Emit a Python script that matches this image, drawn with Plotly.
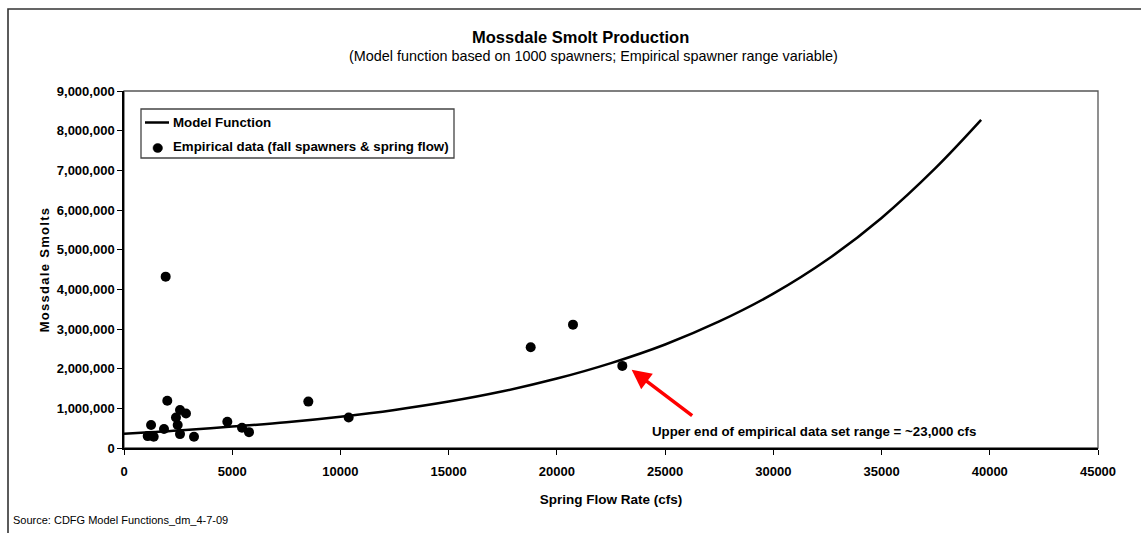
import plotly.graph_objects as go

# Empirical data (fall spawners & spring flow)
emp_flow = [1925, 2000, 1250, 1095, 1372, 1848, 2587, 2402, 2480, 2587, 2864, 3234,
            4774, 5452, 5775, 8516, 10380, 18790, 20744, 23022]
emp_smolts = [4320000, 1190000, 580000, 300000, 285000, 480000, 960000, 770000, 580000,
              350000, 870000, 285000, 660000, 510000, 400000, 1170000, 770000, 2540000,
              3110000, 2070000]

# Model function
model_flow = [0, 2500, 5000, 7500, 10000, 12500, 15000, 17500, 20000, 22500, 25000,
              27500, 30000, 32500, 35000, 37500, 39600]
model_smolts = [360000, 440000, 540000, 650000, 790000, 960000, 1170000, 1430000,
                1750000, 2140000, 2610000, 3190000, 3890000, 4750000, 5800000, 7060000,
                8270000]

x_ticks = [0, 5000, 10000, 15000, 20000, 25000, 30000, 35000, 40000, 45000]
y_ticks = [0, 1000000, 2000000, 3000000, 4000000, 5000000, 6000000, 7000000, 8000000, 9000000]

legend_labels = ["Model Function", "Empirical data (fall spawners & spring flow)"]

FONT = "Arial, Liberation Sans, sans-serif"
W, H = 1141, 533
L, R, T, B = 124, 1098, 91, 448

def px(xp):
    return (xp - L) / (R - L)

def py(yp):
    return (B - yp) / (B - T)

fig = go.Figure()
fig.add_trace(go.Scatter(x=model_flow, y=model_smolts, mode="lines", name=legend_labels[0],
                         line=dict(color="black", width=2.5, shape="spline")))
fig.add_trace(go.Scatter(x=emp_flow, y=emp_smolts, mode="markers", name=legend_labels[1],
                         marker=dict(color="black", size=10)))

axis_font = dict(family=FONT, size=13, color="black", weight="bold")
fig.update_xaxes(range=[0, 45000], tickvals=x_ticks, tickformat="d", ticks="outside", ticklen=5,
                 tickcolor="black", showline=True, linecolor="black", linewidth=1.5,
                 showgrid=False, zeroline=False, tickfont=axis_font, ticklabelstandoff=6,
                 title=dict(text="Spring Flow Rate (cfs)", standoff=16,
                            font=dict(family=FONT, size=13.5, color="black", weight="bold")))
fig.update_yaxes(range=[0, 9000000], tickvals=y_ticks, tickformat=",d", ticks="outside",
                 ticklen=5, tickcolor="black", showline=True, linecolor="black", linewidth=1.5,
                 showgrid=False, zeroline=False, tickfont=axis_font,
                 title=dict(text='<span style="letter-spacing:1.3px">Mossdale Smolts</span>',
                            standoff=4,
                            font=dict(family=FONT, size=13, color="black", weight="bold")))

legend_font = dict(family=FONT, size=13.3, color="black", weight="bold")

shapes = [
    # outer frame
    dict(type="rect", xref="paper", yref="paper", x0=px(8), x1=px(1150), y0=py(545), y1=py(9),
         line=dict(color="#333333", width=1.6), layer="below"),
    # plot area border
    dict(type="rect", xref="paper", yref="paper", x0=0, x1=1, y0=0, y1=1,
         line=dict(color="#555555", width=1.3), layer="below"),
    # legend box
    dict(type="rect", xref="paper", yref="paper", x0=px(141), x1=px(454), y0=py(158), y1=py(109),
         line=dict(color="#444444", width=1.3), fillcolor="white", layer="above"),
    # legend line sample
    dict(type="line", xref="paper", yref="paper", x0=px(145), x1=px(169), y0=py(122.5), y1=py(122.5),
         line=dict(color="black", width=2.5), layer="above"),
    # legend marker sample
    dict(type="circle", xref="paper", yref="paper", x0=px(153), x1=px(162.5), y0=py(152.5),
         y1=py(143.5), line=dict(color="black", width=0.5), fillcolor="black", layer="above"),
]

annotations = [
    dict(text="Mossdale Smolt Production", xref="paper", yref="paper", x=px(580), y=py(37),
         xanchor="center", yanchor="middle", showarrow=False,
         font=dict(family=FONT, size=16.5, color="black", weight="bold")),
    dict(text="(Model function based on 1000 spawners; Empirical spawner range variable)",
         xref="paper", yref="paper", x=px(593), y=py(56), xanchor="center", yanchor="middle",
         showarrow=False, font=dict(family=FONT, size=14.4, color="black")),
    dict(text="Source: CDFG Model Functions_dm_4-7-09", xref="paper", yref="paper",
         x=px(11), y=py(520), xanchor="left", yanchor="middle", showarrow=False,
         font=dict(family=FONT, size=11, color="black")),
    dict(text="Upper end of empirical data set range = ~23,000 cfs", xref="paper", yref="paper",
         x=px(650), y=py(431), xanchor="left", yanchor="middle", showarrow=False,
         font=dict(family=FONT, size=13.3, color="black", weight="bold")),
    dict(text="", x=23455, y=1970000, xref="x", yref="y", showarrow=True,
         ax=62, ay=47, arrowhead=2, arrowsize=1.1, arrowwidth=3.5, arrowcolor="#ff0000",
         standoff=0),
    dict(text=legend_labels[0], xref="paper", yref="paper", x=px(171), y=py(122.5),
         xanchor="left", yanchor="middle", showarrow=False, font=legend_font),
    dict(text=legend_labels[1], xref="paper", yref="paper", x=px(171), y=py(146.5),
         xanchor="left", yanchor="middle", showarrow=False, font=legend_font),
]

fig.update_layout(
    width=W, height=H, autosize=False,
    margin=dict(l=L, r=W - R, t=T, b=H - B, pad=0),
    paper_bgcolor="white", plot_bgcolor="white",
    shapes=shapes, annotations=annotations,
    showlegend=False,
    font=dict(family=FONT),
)

fig.write_html("out.html", config={"displayModeBar": False},
               post_script="document.body.style.margin='0px';")
